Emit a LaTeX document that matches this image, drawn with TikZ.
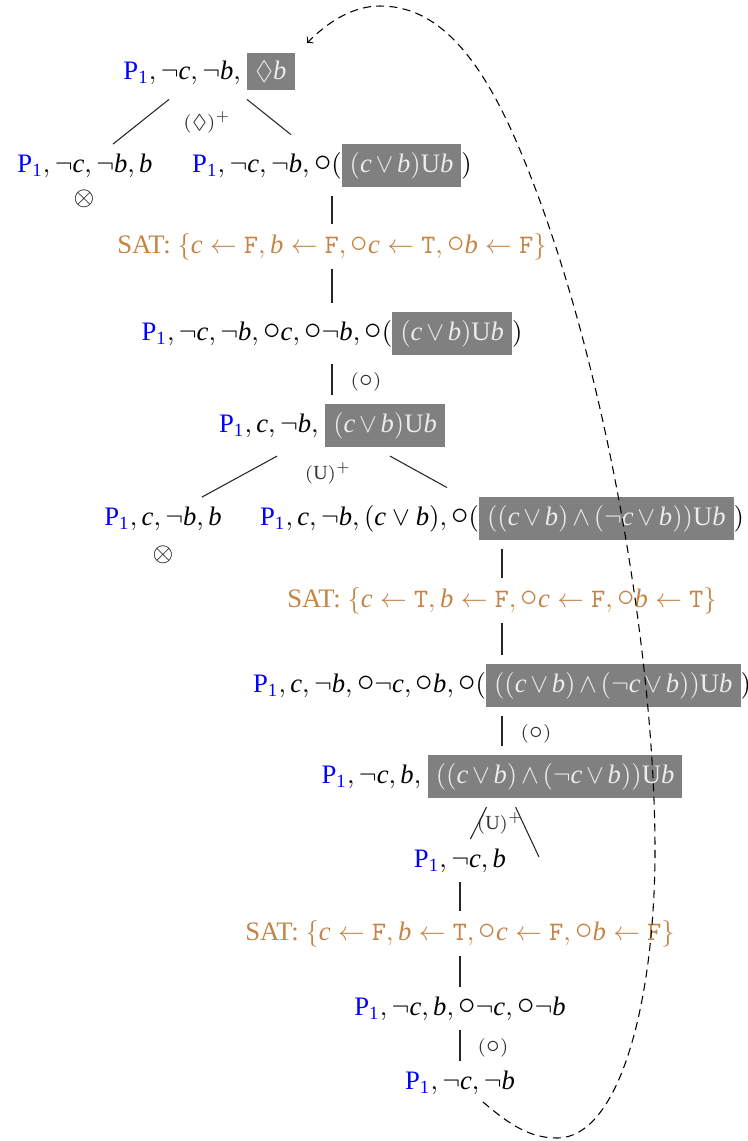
\documentclass[tikz,border=0pt]{standalone}
\usepackage{graphicx}
\usepackage{amssymb}
\usepackage{fontspec}
\setmainfont{Liberation Serif}
\usetikzlibrary{calc}
\definecolor{satc}{RGB}{196,132,70}
\definecolor{boxtext}{RGB}{236,236,236}
\definecolor{lblc}{RGB}{50,50,50}
\newcommand\Pone{{\color{blue}\mathrm{P}_{\mathrm{1}}}}
\newcommand\nx{\mathord{\raisebox{0.05ex}{\scalebox{1.3}{$\circ$}}}}
\newcommand\gbx[1]{{\setlength\fboxsep{3pt}\colorbox{gray}{\color{boxtext}$\medmuskip=2.5mu #1$}}}
\newcommand\tF{\mathtt{F}}
\newcommand\tT{\mathtt{T}}
\newcommand\UU{\mathrm{U}}
\newcommand\vc{\mathit{c}}
\newcommand\vb{\mathit{b}}
\begin{document}
\begin{tikzpicture}[x=0.375pt,y=-0.375pt,
  every node/.style={font=\fontsize{10}{12}\selectfont},
  lbl/.style={font=\fontsize{7.5}{9}\selectfont,text=lblc,inner sep=0pt},
  sat/.style={text=satc},
  conn/.style={draw=black!85,line width=0.4pt},
  loopline/.style={draw,line width=0.4pt,dash pattern=on 3pt off 2pt,->}]
\useasboundingbox (0,0) rectangle (748,1141);

\node[anchor=base] (n1) at (209,79) {$\Pone, \neg \vc, \neg \vb,$ \gbx{\Diamond \vb}};
\node[anchor=base] (n2) at (85,172) {$\Pone, \neg \vc, \neg \vb, \vb$};
\node[anchor=base] (n3) at (332,172) {$\Pone, \neg \vc, \neg \vb, \nx($\gbx{(\vc\vee \vb)\UU \vb}$)$};
\node (x1) at (84,199) {$\otimes$};
\node[anchor=base,sat] (s1) at (332,253) {SAT: $\{\vc\leftarrow\tF, \vb\leftarrow\tF, \nx \vc\leftarrow\tT, \nx \vb\leftarrow\tF\}$};
\node[anchor=base] (n5) at (332,340) {$\Pone, \neg \vc, \neg \vb, \nx \vc, \nx\neg \vb, \nx($\gbx{(\vc\vee \vb)\UU \vb}$)$};
\node[anchor=base] (n7) at (332,432) {$\Pone, \vc, \neg \vb,$ \gbx{(\vc\vee \vb)\UU \vb}};
\node[anchor=base] (n9) at (163,525) {$\Pone, \vc, \neg \vb, \vb$};
\node[anchor=base] (n10) at (502,525) {$\Pone, \vc, \neg \vb, (\vc\vee \vb), \nx($\gbx{((\vc\vee \vb)\wedge(\neg \vc\vee \vb))\UU \vb}$)$};
\node (x2) at (163,555) {$\otimes$};
\node[anchor=base,sat] (s2) at (502,607) {SAT: $\{\vc\leftarrow\tT, \vb\leftarrow\tF, \nx \vc\leftarrow\tF, \nx \vb\leftarrow\tT\}$};
\node[anchor=base] (n12) at (502,692) {$\Pone, \vc, \neg \vb, \nx\neg \vc, \nx \vb, \nx($\gbx{((\vc\vee \vb)\wedge(\neg \vc\vee \vb))\UU \vb}$)$};
\node[anchor=base] (n14) at (502,783) {$\Pone, \neg \vc, \vb,$ \gbx{((\vc\vee \vb)\wedge(\neg \vc\vee \vb))\UU \vb}};
\node[anchor=base] (n15) at (460,867) {$\Pone, \neg \vc, \vb$};
\node[anchor=base,sat] (s3) at (460,940) {SAT: $\{\vc\leftarrow\tF, \vb\leftarrow\tT, \nx \vc\leftarrow\tF, \nx \vb\leftarrow\tF\}$};
\node[anchor=base] (n17) at (460,1015) {$\Pone, \neg \vc, \vb, \nx\neg \vc, \nx\neg \vb$};
\node[anchor=base] (n19) at (460,1089) {$\Pone, \neg \vc, \neg \vb$};

% rule labels
\node[lbl] (l1) at (207,122) {$(\Diamond)^{+}$};
\node[lbl] (l2) at (366,382) {$(\nx)$};
\node[lbl] (l3) at (328,473) {$(\UU)^{+}$};
\node[lbl] (l4) at (536,734) {$(\nx)$};
\node[lbl] (l5) at (500,823) {$(\UU)^{+}$};
\node[lbl] (l6) at (493,1048) {$(\nx)$};

% connectors
\draw[conn] ([xshift=-15pt]n1.south) -- ([xshift=10.5pt]n2.north);
\draw[conn] ([xshift=14.25pt]n1.south) -- ([xshift=-15.4pt]n3.north);
\draw[conn] (n3) -- (s1);
\draw[conn] (s1) -- (n5);
\draw[conn] (n5) -- (n7);
\draw[conn] ([xshift=-20.6pt]n7.south) -- ([xshift=14.6pt]n9.north);
\draw[conn] ([xshift=21.75pt]n7.south) -- ([xshift=-20.6pt]n10.north);
\draw[conn] (n10) -- (s2);
\draw[conn] (s2) -- (n12);
\draw[conn] (n12) -- (n14);
\coordinate (e15) at (539,857);
\draw[conn] ([xshift=-5.8pt]n14.south) -- ([xshift=3.9pt]n15.north);
\draw[conn] ([xshift=5.1pt]n14.south) -- (e15);
\draw[conn] (n15) -- (s3);
\draw[conn] (s3) -- (n17);
\draw[conn] (n17) -- (n19);

% loop back
\coordinate (ds) at (483,1102);
\coordinate (de) at (307,43);
\draw[loopline] (ds) .. controls (510,1125) and (530,1138) .. (557,1138)
  .. controls (620,1138) and (655,1000) .. (655,850)
  .. controls (655,650) and (603,343) .. (517,143)
  .. controls (474,43) and (430,6) .. (380,6)
  .. controls (350,6) and (325,25) .. (de);
\end{tikzpicture}
\end{document}
